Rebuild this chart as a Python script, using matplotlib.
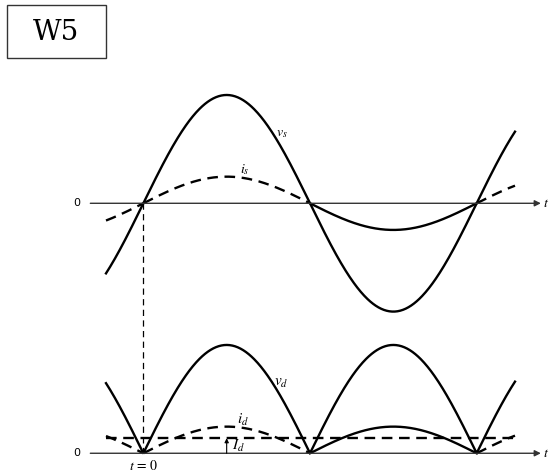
import numpy as np
import matplotlib
matplotlib.use("Agg")
import matplotlib.pyplot as plt
from matplotlib.patches import Rectangle

plt.rcParams["mathtext.fontset"] = "stix"

# Waveform parameters (x in units of pi, y in units of Vm)
PHASE_START = -0.224
PHASE_END = 2.230
V_AMP = 1.0        # v_s / v_d peak
I_AMP = 0.246      # i_s / i_d peak
I_D = 0.139        # average dc current level
BOTTOM_OFFSET = 2.308  # baseline of the lower panel

# segments of the current: (start, end, dashed?)
I_SEGMENTS = [(PHASE_START, 0.0, True), (0.0, 1.0, True), (1.0, 2.0, False), (2.0, PHASE_END, True)]

fig = plt.figure(figsize=(5.49, 4.72), dpi=100)
ax = fig.add_axes([0, 0, 1, 1])
ax.set_xlim(-0.860, 2.434)
ax.set_ylim(-2.481, 1.877)
ax.axis("off")

lw = 1.7
dash = (0, (4.5, 2.8))

th = np.linspace(PHASE_START, PHASE_END, 600)

# --- upper panel: v_s and i_s ---
ax.plot(th, V_AMP * np.sin(np.pi * th), color="black", lw=lw)
for a, b, dashed in I_SEGMENTS:
    t = np.linspace(a, b, 200)
    ax.plot(t, I_AMP * np.sin(np.pi * t), color="black", lw=lw,
            linestyle=dash if dashed else "-")

# --- lower panel: v_d, i_d, I_d ---
base = -BOTTOM_OFFSET
ax.plot(th, base + V_AMP * np.abs(np.sin(np.pi * th)), color="black", lw=lw)
for a, b, dashed in I_SEGMENTS:
    t = np.linspace(a, b, 200)
    ax.plot(t, base + I_AMP * np.abs(np.sin(np.pi * t)), color="black", lw=lw,
            linestyle=dash if dashed else "-")
ax.plot([PHASE_START, PHASE_END], [base + I_D, base + I_D], color="black", lw=lw,
        linestyle=dash)

# time axes with arrows
for y0 in (0.0, base):
    ax.annotate("", xy=(2.385, y0), xytext=(-0.318, y0),
                arrowprops=dict(arrowstyle="-|>", color="#333333", lw=1.0,
                                mutation_scale=9, shrinkA=0, shrinkB=0))
    ax.text(-0.40, y0, "0", ha="center", va="center", fontsize=8)
    ax.text(2.398, y0, r"$t$", ha="left", va="center", fontsize=10)

# t = 0 marker
ax.plot([0, 0], [0, base], color="black", lw=0.9, linestyle=(0, (5, 3.5)))
ax.text(0.0, base - 0.12, r"$t\,=\,\mathrm{0}$", ha="center", va="center", fontsize=10)

# I_d arrow
ax.annotate("", xy=(0.5, base + I_D), xytext=(0.5, base),
            arrowprops=dict(arrowstyle="-|>", color="black", lw=0.8,
                            mutation_scale=6, shrinkA=0, shrinkB=0))
ax.text(0.535, base + 0.065, r"$I_d$", ha="left", va="center", fontsize=11)

# curve labels
ax.text(0.83, 0.646, r"$v_s$", ha="center", va="center", fontsize=10)
ax.text(0.611, 0.307, r"$i_s$", ha="center", va="center", fontsize=10)
ax.text(0.83, base + 0.649, r"$v_d$", ha="center", va="center", fontsize=11)
ax.text(0.598, base + 0.308, r"$i_d$", ha="center", va="center", fontsize=11)

# title box
fig.patches.append(Rectangle((7 / 549, 1 - 58 / 472), 99 / 549, 53 / 472,
                             transform=fig.transFigure, fill=False,
                             edgecolor="#333333", lw=1.0))
fig.text(56 / 549, 1 - 32 / 472, "W5", ha="center", va="center",
         fontsize=20, family="DejaVu Serif")

fig.savefig("out.png", dpi=100)
